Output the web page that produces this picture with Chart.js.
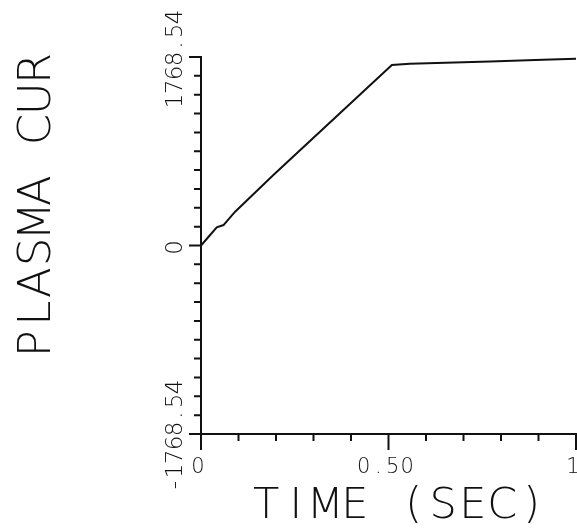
<!DOCTYPE html>
<html>
<head>
<meta charset="utf-8">
<script src="https://cdn.jsdelivr.net/npm/chart.js@4/dist/chart.umd.min.js"></script>
<style>
  html, body { margin: 0; padding: 0; background: #fff; }
  #wrap { width: 577px; height: 530px; }
</style>
</head>
<body>
<div id="wrap"><canvas id="plasma"></canvas></div>
<script>
'use strict';

// Plasma current vs time
const timeSec = [0, 0.042, 0.060, 0.091, 0.193, 0.509, 0.557, 0.771, 0.912, 1.0];
const plasmaCur = [0, 171, 192, 317, 661, 1693, 1705, 1726, 1742, 1752];

const yLimit = 1768.54;
const yTickValues = [-1768.54, 0, 1768.54];
const yTickLabels = ['-1768.54', '0', '1768.54'];
const xTickValues = [0, 0.5, 1];
const xTickLabels = ['0', '0.50', '1'];
const minorSteps = 10;

const inkColor = '#111';
const plotFont = '"DejaVu Sans", sans-serif';

// plotter style lettering: every character on a fixed pitch
function drawSpaced(ctx, text, x, y, pitch, size, angle) {
  ctx.save();
  ctx.translate(x, y);
  ctx.rotate(angle);
  ctx.font = '200 ' + size + 'px ' + plotFont;
  ctx.fillStyle = inkColor;
  ctx.textAlign = 'center';
  ctx.textBaseline = 'alphabetic';
  const n = text.length;
  for (let i = 0; i < n; i++) {
    ctx.fillText(text[i], (i - (n - 1) / 2) * pitch, 0);
  }
  ctx.restore();
}

const axisDecor = {
  id: 'axisDecor',
  afterDraw(chart) {
    const ctx = chart.ctx;
    const xs = chart.scales.x;
    const ys = chart.scales.y;
    const left = chart.chartArea.left;
    const bottom = chart.chartArea.bottom;

    ctx.save();
    ctx.strokeStyle = inkColor;
    ctx.lineWidth = 2;
    ctx.beginPath();
    // y ticks, pointing left
    for (let k = -minorSteps; k <= minorSteps; k++) {
      const py = ys.getPixelForValue(k * yLimit / minorSteps);
      const len = k % minorSteps === 0 ? 12 : 7;
      ctx.moveTo(left - len, py);
      ctx.lineTo(left, py);
    }
    // x ticks, pointing down
    for (let k = 0; k <= minorSteps; k++) {
      const px = xs.getPixelForValue(k / minorSteps);
      const len = k % (minorSteps / 2) === 0 ? 16 : 7;
      ctx.moveTo(px, bottom);
      ctx.lineTo(px, bottom + len);
    }
    ctx.stroke();
    ctx.restore();

    yTickValues.forEach(function (v, i) {
      drawSpaced(ctx, yTickLabels[i], 182, ys.getPixelForValue(v) + 2, 14, 23, -Math.PI / 2);
    });
    xTickValues.forEach(function (v, i) {
      drawSpaced(ctx, xTickLabels[i], xs.getPixelForValue(v) - 3, 473, 14.5, 21, 0);
    });

    drawSpaced(ctx, 'TIME (SEC)', 399, 518, 29.5, 43, 0);
    drawSpaced(ctx, 'PLASMA CUR', 50, 206, 30.6, 45, -Math.PI / 2);
  }
};

const points = timeSec.map(function (t, i) {
  return { x: t, y: plasmaCur[i] };
});

new Chart(document.getElementById('plasma'), {
  type: 'line',
  data: {
    datasets: [
      {
        data: points,
        borderColor: inkColor,
        borderWidth: 2,
        pointRadius: 0,
        tension: 0,
        fill: false,
        clip: false
      }
    ]
  },
  options: {
    responsive: true,
    maintainAspectRatio: false,
    animation: false,
    events: [],
    layout: {
      padding: { left: 201, top: 57, right: 1, bottom: 96 }
    },
    plugins: {
      legend: { display: false },
      tooltip: { enabled: false }
    },
    scales: {
      x: {
        type: 'linear',
        min: 0,
        max: 1,
        grid: { display: false, drawTicks: false },
        border: { display: true, color: inkColor, width: 2 },
        ticks: { display: false },
        afterFit: function (scale) { scale.height = 0; }
      },
      y: {
        type: 'linear',
        min: -yLimit,
        max: yLimit,
        grid: { display: false, drawTicks: false },
        border: { display: true, color: inkColor, width: 2 },
        ticks: { display: false },
        afterFit: function (scale) { scale.width = 0; }
      }
    }
  },
  plugins: [axisDecor]
});
</script>
</body>
</html>
